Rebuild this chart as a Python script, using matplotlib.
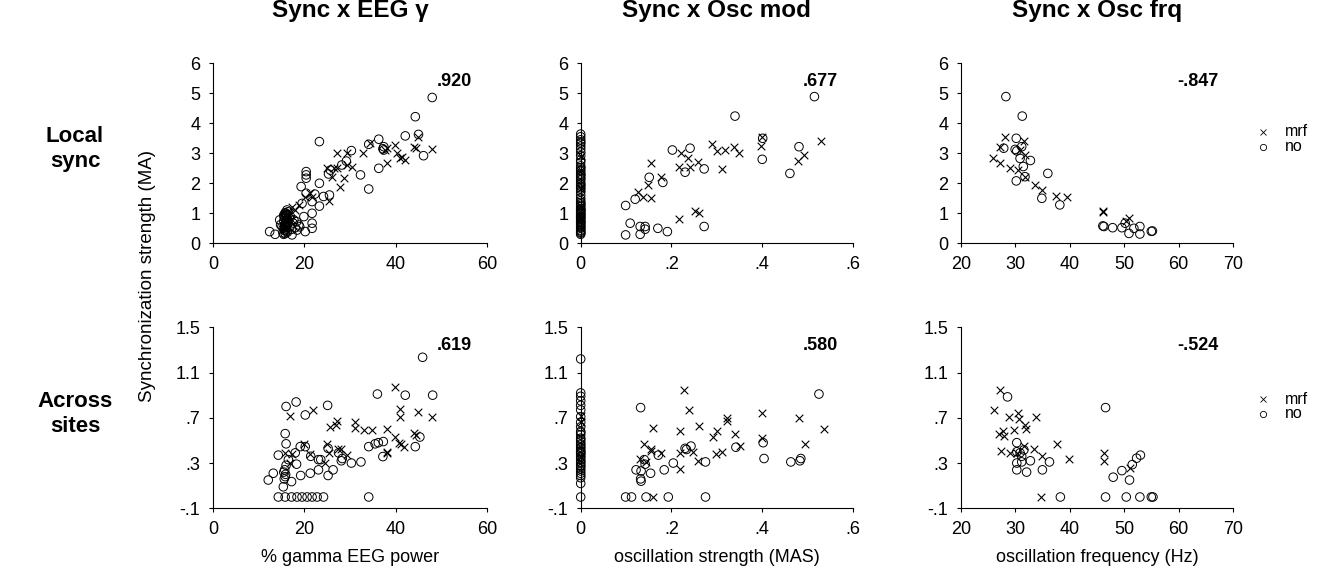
import matplotlib
matplotlib.use("Agg")
import matplotlib.pyplot as plt
from matplotlib.lines import Line2D

plt.rcParams['font.family'] = ['Liberation Sans', 'DejaVu Sans']

# ---- data: top row (local sync) ----
eeg_loc_no_x = [48.0, 44.3, 45.0, 42.1, 46.1, 36.3, 34.1, 37.4, 37.4, 37.2, 36.3, 34.1, 32.3, 30.3, 29.2,
                28.2, 25.7, 25.3, 23.3, 23.3, 25.5, 24.2, 23.3, 20.4, 20.4, 20.4, 19.3, 20.4, 21.7, 22.3,
                19.5, 21.7, 21.7, 21.7, 20.2, 18.8, 17.7, 12.4, 13.6, 14.6, 15.1, 15.8, 16.2, 17.3, 18.4,
                19.9, 16.9, 15.5, 15.3, 15.6, 15.9, 16.2, 15.5, 15.8, 16.1, 16.4, 15.4, 15.7, 16.0, 16.3,
                15.6, 15.9, 16.2, 15.5, 15.8, 16.1, 17.5, 18.0, 14.8, 17.0,
                15.7, 16.0, 15.8, 16.1, 15.9, 16.2, 15.6, 16.0, 15.8, 16.3, 15.9, 16.1, 17.2, 18.3, 19.0]
eeg_loc_no_y = [4.86, 4.22, 3.63, 3.58, 2.92, 3.47, 3.30, 3.22, 3.11, 3.15, 2.50, 1.81, 2.28, 3.09, 2.74,
                2.61, 2.44, 2.31, 3.39, 2.00, 1.61, 1.56, 1.24, 2.39, 2.28, 2.17, 1.89, 1.67, 1.39, 1.64,
                1.33, 1.00, 0.67, 0.50, 0.39, 0.61, 0.78, 0.39, 0.30, 0.78, 0.56, 0.33, 1.11, 0.28, 0.44,
                0.89, 0.56, 0.94, 0.35, 0.45, 0.55, 0.65, 0.75, 0.85, 0.95, 1.05, 0.50, 0.60, 0.70, 0.80,
                0.90, 1.00, 0.40, 0.30, 0.62, 0.78, 0.68, 0.52, 0.62, 0.88,
                0.42, 0.48, 0.58, 0.64, 0.72, 0.82, 0.88, 0.97, 1.02, 0.37, 0.53, 0.92, 0.47, 0.72, 0.55]
eeg_loc_mrf_x = [48.0, 44.5, 44.8, 44.0, 42.1, 41.0, 41.4, 40.3, 39.9, 38.1, 37.7, 38.1, 34.4, 32.9, 29.3,
                 29.3, 30.4, 27.2, 27.9, 28.6, 26.1, 26.4, 25.0, 27.2, 25.5, 21.7, 21.3, 20.2, 18.8, 18.0,
                 17.3, 16.9, 15.8, 16.3, 16.0, 16.6, 17.0]
eeg_loc_mrf_y = [3.14, 3.19, 3.53, 3.22, 2.78, 2.83, 2.89, 3.00, 3.28, 2.67, 3.11, 3.17, 3.33, 3.00, 3.00,
                 2.61, 2.56, 3.00, 1.89, 2.17, 2.22, 2.50, 2.50, 2.50, 1.41, 1.56, 1.67, 1.56, 1.28, 1.11,
                 1.22, 1.00, 0.90, 0.70, 0.55, 1.05, 0.80]

mod_loc_no_x = [0.515, 0.340, 0.481, 0.401, 0.400, 0.461, 0.202, 0.241, 0.230, 0.272, 0.151, 0.181, 0.099,
                0.120, 0.109, 0.099, 0.131, 0.131, 0.142, 0.142, 0.170, 0.191, 0.272,
                0, 0, 0, 0, 0, 0, 0, 0, 0, 0, 0, 0, 0, 0, 0, 0, 0, 0, 0, 0, 0, 0, 0, 0, 0, 0,
                0, 0, 0, 0, 0, 0, 0, 0, 0, 0, 0, 0, 0, 0,
                0, 0, 0, 0, 0, 0, 0, 0, 0, 0, 0, 0, 0, 0, 0, 0, 0, 0]
mod_loc_no_y = [4.89, 4.24, 3.22, 3.50, 2.80, 2.33, 3.11, 3.17, 2.37, 2.48, 2.20, 2.03, 1.26,
                1.47, 0.67, 0.28, 0.56, 0.30, 0.47, 0.56, 0.50, 0.39, 0.56,
                0.30, 0.37, 0.44, 0.50, 0.56, 0.61, 0.68, 0.74, 0.79, 0.86, 0.92, 0.97, 1.03, 1.10, 1.16,
                1.22, 1.31, 1.42, 1.50, 1.61, 1.72, 1.80, 1.91, 2.02, 2.11, 2.22, 2.31, 2.40, 2.52, 2.58,
                2.70, 2.78, 2.92, 3.04, 3.15, 3.24, 3.33, 3.45, 3.55, 3.64,
                0.34, 0.41, 0.53, 0.64, 0.71, 0.83, 0.89, 1.00, 1.07, 1.13, 1.26, 1.36, 1.85, 1.97, 2.16,
                2.27, 2.45, 3.38]
mod_loc_mrf_x = [0.154, 0.178, 0.149, 0.127, 0.138, 0.156, 0.217, 0.252, 0.261, 0.217, 0.222, 0.237, 0.241,
                 0.259, 0.289, 0.300, 0.319, 0.338, 0.349, 0.311, 0.397, 0.399, 0.479, 0.492, 0.530,
                 0, 0, 0, 0, 0]
mod_loc_mrf_y = [2.67, 2.20, 1.94, 1.72, 1.56, 1.52, 0.80, 1.08, 1.02, 2.53, 3.00, 2.83, 2.56,
                 2.70, 3.31, 3.09, 3.11, 3.20, 3.02, 2.47, 3.24, 3.53, 2.76, 2.94, 3.42,
                 2.92, 2.45, 1.85, 1.25, 0.85]

frq_loc_no_x = [28.3, 31.3, 30.2, 30.0, 30.3, 27.9, 31.2, 30.9, 32.8, 31.5, 30.2, 31.8, 36.0, 34.9, 38.2,
                46.3, 47.9, 49.6, 50.2, 50.9, 51.8, 52.9, 52.9, 55.2, 55.0, 46.1]
frq_loc_no_y = [4.89, 4.24, 3.50, 3.13, 3.08, 3.17, 3.22, 2.83, 2.76, 2.56, 2.08, 2.22, 2.33, 1.50, 1.28,
                0.56, 0.52, 0.52, 0.67, 0.33, 0.50, 0.56, 0.31, 0.41, 0.40, 0.58]
frq_loc_mrf_x = [26.0, 27.2, 28.2, 27.2, 29.1, 30.6, 31.8, 31.7, 30.9, 31.8, 33.7, 34.9, 37.5, 39.5, 46.1,
                 46.2, 50.9, 50.3]
frq_loc_mrf_y = [2.83, 2.67, 3.56, 3.22, 2.50, 2.44, 2.94, 3.42, 3.11, 2.22, 1.94, 1.78, 1.58, 1.53, 1.09,
                 1.05, 0.83, 0.76]

# ---- data: bottom row (across sites) ----
eeg_acr_no_x = [45.9, 36.0, 42.1, 48.1, 16.0, 18.2, 20.2, 25.1, 36.2, 37.3, 35.5, 34.1, 37.2, 44.3, 45.3,
                32.4, 30.3, 28.1, 28.3, 26.3, 25.2, 23.1, 23.1, 21.3, 21.4, 19.2, 19.1, 20.2, 18.3, 17.2,
                15.4, 12.1, 13.2, 14.3, 15.8, 16.0, 16.5, 18.0, 25.2, 27.5, 23.6,
                15.6, 15.9, 15.7, 16.0, 15.5, 15.8,
                14.3, 15.8, 17.2, 18.4, 19.5, 20.6, 21.7, 22.8, 24.2, 34.1]
eeg_acr_no_y = [1.235, 0.91, 0.90, 0.90, 0.80, 0.84, 0.725, 0.81, 0.48, 0.49, 0.47, 0.445, 0.357, 0.445, 0.53,
                0.31, 0.30, 0.32, 0.34, 0.24, 0.19, 0.24, 0.33, 0.21, 0.36, 0.19, 0.445, 0.445, 0.29, 0.136,
                0.09, 0.15, 0.21, 0.37, 0.56, 0.47, 0.33, 0.39, 0.43, 0.39, 0.33,
                0.16, 0.20, 0.24, 0.28, 0.22, 0.18,
                0.0, 0.0, 0.0, 0.0, 0.0, 0.0, 0.0, 0.0, 0.0, 0.0]
eeg_acr_mrf_x = [39.8, 40.9, 40.9, 44.8, 47.9, 21.9, 16.9, 25.7, 27.2, 27.0, 31.2, 31.1, 33.0, 34.9, 38.0,
                 39.8, 40.8, 41.1, 41.9, 44.1, 44.5, 38.0, 38.0, 25.0, 25.3, 27.3, 28.1, 29.4, 20.0, 17.3,
                 16.9, 21.3, 24.6, 15.8]
eeg_acr_mrf_y = [0.97, 0.78, 0.71, 0.755, 0.705, 0.77, 0.72, 0.62, 0.675, 0.64, 0.66, 0.61, 0.59, 0.59, 0.60,
                 0.53, 0.48, 0.47, 0.445, 0.57, 0.55, 0.40, 0.386, 0.47, 0.386, 0.42, 0.425, 0.37, 0.465, 0.38,
                 0.30, 0.38, 0.30, 0.386]

mod_acr_no_x = [0, 0.132, 0.140, 0.142, 0.122, 0.133, 0.132, 0.133, 0.154, 0.171, 0.184, 0.204, 0.233,
                0.243, 0.230, 0.275, 0.342, 0.402, 0.404, 0.463, 0.485, 0.483, 0.525,
                0.099, 0.112, 0.144, 0.193, 0.275,
                0, 0, 0, 0, 0, 0, 0, 0, 0, 0, 0, 0, 0, 0, 0, 0, 0, 0, 0, 0, 0, 0, 0, 0, 0, 0,
                0, 0, 0, 0, 0, 0, 0, 0, 0, 0]
mod_acr_no_y = [1.22, 0.79, 0.33, 0.29, 0.24, 0.23, 0.16, 0.14, 0.21, 0.37, 0.24, 0.30, 0.42,
                0.45, 0.43, 0.31, 0.44, 0.48, 0.34, 0.31, 0.34, 0.32, 0.91,
                0.0, 0.0, 0.0, 0.0, 0.0,
                0.0, 0.12, 0.17, 0.21, 0.25, 0.28, 0.31, 0.33, 0.36, 0.38, 0.41, 0.44, 0.46, 0.49, 0.52,
                0.55, 0.58, 0.62, 0.66, 0.71, 0.77, 0.81, 0.85, 0.89, 0.92, 0.40,
                0.19, 0.23, 0.27, 0.30, 0.35, 0.39, 0.43, 0.47, 0.51, 0.57]
mod_acr_mrf_x = [0.228, 0.239, 0.159, 0.219, 0.261, 0.291, 0.301, 0.322, 0.323, 0.340, 0.399, 0.399, 0.482,
                 0.494, 0.139, 0.154, 0.156, 0.177, 0.131, 0.219, 0.248, 0.259, 0.299, 0.312, 0.350, 0.219,
                 0.159, 0.144, 0.535, 0, 0, 0]
mod_acr_mrf_y = [0.95, 0.77, 0.61, 0.585, 0.63, 0.53, 0.585, 0.70, 0.675, 0.56, 0.745, 0.52, 0.70,
                 0.47, 0.47, 0.42, 0.41, 0.39, 0.34, 0.39, 0.40, 0.32, 0.38, 0.395, 0.45, 0.25,
                 0.0, 0.31, 0.60, 0.72, 0.66, 0.35]

frq_acr_no_x = [28.6, 30.3, 30.3, 30.9, 31.6, 31.2, 30.3, 31.2, 30.3, 32.1, 32.8, 35.0, 36.3, 46.6, 48.0,
                49.6, 51.0, 51.5, 52.3, 53.0, 38.3, 46.6, 50.4, 52.9, 55.0, 55.3]
frq_acr_no_y = [0.885, 0.48, 0.40, 0.39, 0.416, 0.36, 0.30, 0.31, 0.24, 0.22, 0.32, 0.24, 0.31, 0.79, 0.175,
                0.233, 0.15, 0.286, 0.343, 0.37, 0.0, 0.0, 0.0, 0.0, 0.0, 0.0]
frq_acr_mrf_x = [27.2, 26.1, 28.8, 30.6, 30.7, 33.9, 31.8, 32.0, 29.8, 27.1, 27.7, 28.0, 27.4, 29.0, 30.4,
                 31.6, 33.5, 34.9, 37.7, 39.8, 46.3, 46.3, 51.0, 34.8]
frq_acr_mrf_y = [0.95, 0.77, 0.706, 0.74, 0.69, 0.706, 0.633, 0.604, 0.59, 0.56, 0.584, 0.537, 0.407, 0.39, 0.39,
                 0.45, 0.42, 0.36, 0.465, 0.335, 0.39, 0.32, 0.26, 0.0]

col_titles = ['Sync x EEG \u03b3', 'Sync x Osc mod', 'Sync x Osc frq']
row_titles = ['Local\nsync', 'Across\nsites']
corr_top = ['.920', '.677', '-.847']
corr_bot = ['.619', '.580', '-.524']
x_labels = ['% gamma EEG power', 'oscillation strength (MAS)', 'oscillation frequency (Hz)']
x_ticks = [[0, 20, 40, 60], [0, 0.2, 0.4, 0.6], [20, 30, 40, 50, 60, 70]]
x_tick_labels = [['0', '20', '40', '60'], ['0', '.2', '.4', '.6'], ['20', '30', '40', '50', '60', '70']]
x_lims = [(0, 60), (0, 0.6), (20, 70)]
y_ticks_top = [0, 1, 2, 3, 4, 5, 6]
y_ticks_bot = [-0.1, 0.3, 0.7, 1.1, 1.5]
y_tick_labels_bot = ['-.1', '.3', '.7', '1.1', '1.5']

W, H = 1327, 574
fig = plt.figure(figsize=(W / 100, H / 100), dpi=100)

lefts = [213, 580.7, 960.7]
widths = [274, 272.3, 272.3]
rows = [(63.3, 243.3), (327.3, 508.3)]
legend_y = [131.7, 399]

data = [
    [(eeg_loc_mrf_x, eeg_loc_mrf_y, eeg_loc_no_x, eeg_loc_no_y),
     (mod_loc_mrf_x, mod_loc_mrf_y, mod_loc_no_x, mod_loc_no_y),
     (frq_loc_mrf_x, frq_loc_mrf_y, frq_loc_no_x, frq_loc_no_y)],
    [(eeg_acr_mrf_x, eeg_acr_mrf_y, eeg_acr_no_x, eeg_acr_no_y),
     (mod_acr_mrf_x, mod_acr_mrf_y, mod_acr_no_x, mod_acr_no_y),
     (frq_acr_mrf_x, frq_acr_mrf_y, frq_acr_no_x, frq_acr_no_y)],
]

for r in range(2):
    top, bot = rows[r]
    for c in range(3):
        ax = fig.add_axes([lefts[c] / W, 1 - bot / H, widths[c] / W, (bot - top) / H])
        mx, my, nx, ny = data[r][c]
        ax.scatter(nx, ny, s=38, marker='o', facecolors='none', edgecolors='black',
                   linewidths=0.7, clip_on=False, zorder=3)
        ax.scatter(mx, my, s=30, marker='x', color='black', linewidths=0.8,
                   clip_on=False, zorder=3)
        ax.set_xlim(*x_lims[c])
        ax.set_xticks(x_ticks[c])
        ax.set_xticklabels(x_tick_labels[c])
        if r == 0:
            ax.set_ylim(0, 6)
            ax.set_yticks(y_ticks_top)
            ax.text(0.945, 0.898, corr_top[c], transform=ax.transAxes, ha='right',
                    va='center', fontsize=13, fontweight='bold')
            # column title, centred ~11 px below the top edge
            fig.text((lefts[c] + widths[c] / 2) / W, 1 - 11 / H, col_titles[c],
                     fontsize=17.5, fontweight='bold', ha='center', va='center')
        else:
            ax.set_ylim(-0.1, 1.5)
            ax.set_yticks(y_ticks_bot)
            ax.set_yticklabels(y_tick_labels_bot)
            ax.text(0.945, 0.897, corr_bot[c], transform=ax.transAxes, ha='right',
                    va='center', fontsize=13, fontweight='bold')
            fig.text((lefts[c] + widths[c] / 2) / W, 1 - 558 / H, x_labels[c],
                     fontsize=13, ha='center', va='center')
        for side in ['top', 'right']:
            ax.spines[side].set_visible(False)
        for side in ['left', 'bottom']:
            ax.spines[side].set_linewidth(0.8)
        ax.tick_params(direction='out', length=3, width=0.8, labelsize=13, pad=6)

    # legend at the right of each row
    for k, (mk, lab) in enumerate([('x', 'mrf'), ('o', 'no')]):
        yy = 1 - (legend_y[r] + 15 * k) / H
        fig.add_artist(Line2D([1263 / W], [yy], marker=mk, markersize=4.5,
                              markerfacecolor='none', markeredgecolor='black',
                              markeredgewidth=0.6, linestyle='none'))
        fig.text(1285 / W, yy, lab, fontsize=11.5, va='center', ha='left')

    # row labels
    fig.text(75 / W, 1 - ((top + bot) / 2 - 4) / H, row_titles[r], fontsize=16,
             fontweight='bold', ha='center', va='center', linespacing=1.25)

fig.text(148 / W, 1 - 276 / H, 'Synchronization strength (MA)', rotation=90,
         fontsize=13.5, ha='center', va='center')

fig.savefig('out.png', dpi=100)
